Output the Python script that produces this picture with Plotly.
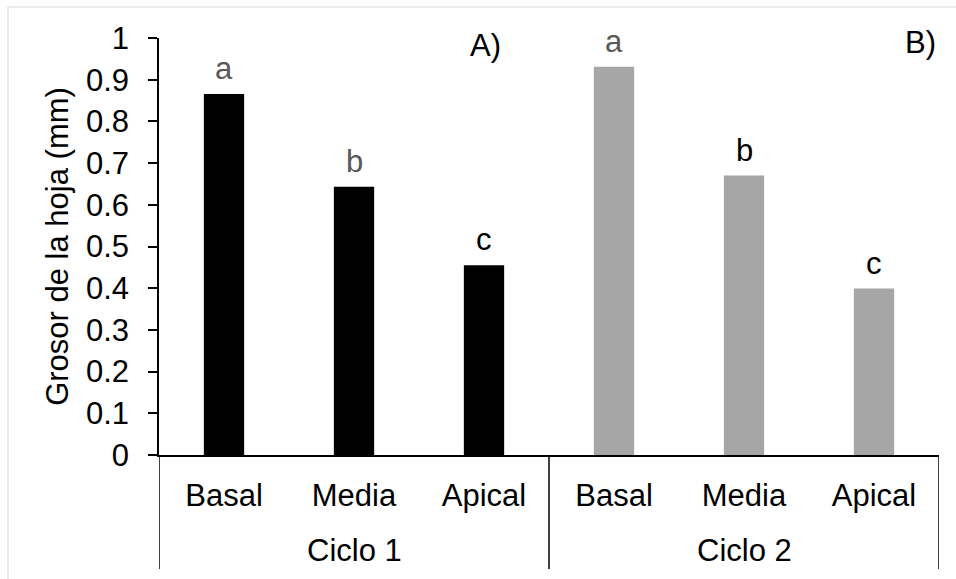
import plotly.graph_objects as go

# Leaf thickness by leaf position for two growing cycles
ciclos = ["Ciclo 1", "Ciclo 1", "Ciclo 1", "Ciclo 2", "Ciclo 2", "Ciclo 2"]
posiciones = ["Basal", "Media", "Apical", "Basal", "Media", "Apical"]
grosor = [0.866, 0.643, 0.455, 0.931, 0.670, 0.399]
letras = ["a", "b", "c", "a", "b", "c"]
colores_barra = ["#000000"] * 3 + ["#a6a6a6"] * 3
colores_letra = ["#595959", "#595959", "#000000", "#595959", "#000000", "#000000"]
paneles = ["A)", "B)"]
ticks_y = [0, 0.1, 0.2, 0.3, 0.4, 0.5, 0.6, 0.7, 0.8, 0.9, 1]
etiquetas_y = ["0", "0.1", "0.2", "0.3", "0.4", "0.5", "0.6", "0.7", "0.8", "0.9", "1"]

W, H = 956, 579
ML, MR, MT, MB = 159, 17, 38, 124
PW, PH = W - ML - MR, H - MT - MB

FONT = "Liberation Sans, Arial, sans-serif"
FS = 31

def px_x(px):
    return (px - ML) / PW

def px_y(py):
    return (H - MB - py) / PH

# one category per bar, labelled with its leaf position
ids = [f"{c} {p}" for c, p in zip(ciclos, posiciones)]

fig = go.Figure()
fig.add_trace(go.Bar(
    x=ids,
    y=grosor,
    marker=dict(color=colores_barra, line=dict(width=0)),
    showlegend=False,
))

# significance letters above each bar
for i, v, t, col in zip(ids, grosor, letras, colores_letra):
    fig.add_annotation(
        x=i, y=v, text=t, showarrow=False,
        yanchor="bottom", yshift=6,
        font=dict(family=FONT, size=FS, color=col),
    )

# cycle labels under each group of three bars
grupos = []
for c in ciclos:
    if c not in grupos:
        grupos.append(c)
for g in grupos:
    miembros = [k for k, c in enumerate(ciclos) if c == g]
    centro = ids[miembros[len(miembros) // 2]]
    fig.add_annotation(
        x=centro, xref="x", y=px_y(550), yref="paper", text=g,
        showarrow=False, xanchor="center", yanchor="middle",
        font=dict(family=FONT, size=FS, color="#000000"),
    )

# group dividers below the axis
bordes = [-0.5]
for k in range(1, len(ciclos)):
    if ciclos[k] != ciclos[k - 1]:
        bordes.append(k - 0.5)
bordes.append(len(ciclos) - 0.5)
for b in bordes:
    fig.add_shape(type="line", xref="x", yref="paper",
                  x0=b, x1=b, y0=0, y1=px_y(569),
                  line=dict(color="#000000", width=1.5))

# panel labels
fig.add_annotation(xref="paper", yref="paper", x=px_x(485), y=px_y(45),
                   xanchor="center", yanchor="middle",
                   text=paneles[0], showarrow=False,
                   font=dict(family=FONT, size=FS, color="#000000"))
fig.add_annotation(xref="paper", yref="paper", x=px_x(920), y=px_y(42),
                   xanchor="center", yanchor="middle",
                   text=paneles[1], showarrow=False,
                   font=dict(family=FONT, size=FS, color="#000000"))

# light chart frame
fig.add_shape(type="rect", xref="paper", yref="paper",
              x0=px_x(8), y0=px_y(600), x1=px_x(980), y1=px_y(7),
              line=dict(color="#d9d9d9", width=1.2), fillcolor="rgba(0,0,0,0)",
              layer="below")

fig.update_layout(
    width=W, height=H,
    margin=dict(l=ML, r=MR, t=MT, b=MB),
    paper_bgcolor="white", plot_bgcolor="white",
    bargap=0.69,
    font=dict(family=FONT, size=FS, color="#000000"),
    xaxis=dict(
        type="category", range=[-0.5, len(ids) - 0.5],
        tickvals=ids, ticktext=posiciones,
        showline=True, linecolor="#000000", linewidth=1.5,
        ticks="", showgrid=False, ticklabelstandoff=12,
        tickfont=dict(family=FONT, size=FS, color="#000000"),
    ),
    yaxis=dict(
        range=[0, 1],
        tickvals=ticks_y, ticktext=etiquetas_y,
        showline=True, linecolor="#000000", linewidth=1.5,
        ticks="outside", ticklen=9, tickwidth=1.5, tickcolor="#000000",
        ticklabelstandoff=13,
        showgrid=False, zeroline=False,
        tickfont=dict(family=FONT, size=FS, color="#000000"),
        title=dict(text="Grosor de la hoja (mm)", standoff=8,
                   font=dict(family=FONT, size=31, color="#000000")),
    ),
)

fig.write_html("out.html")
